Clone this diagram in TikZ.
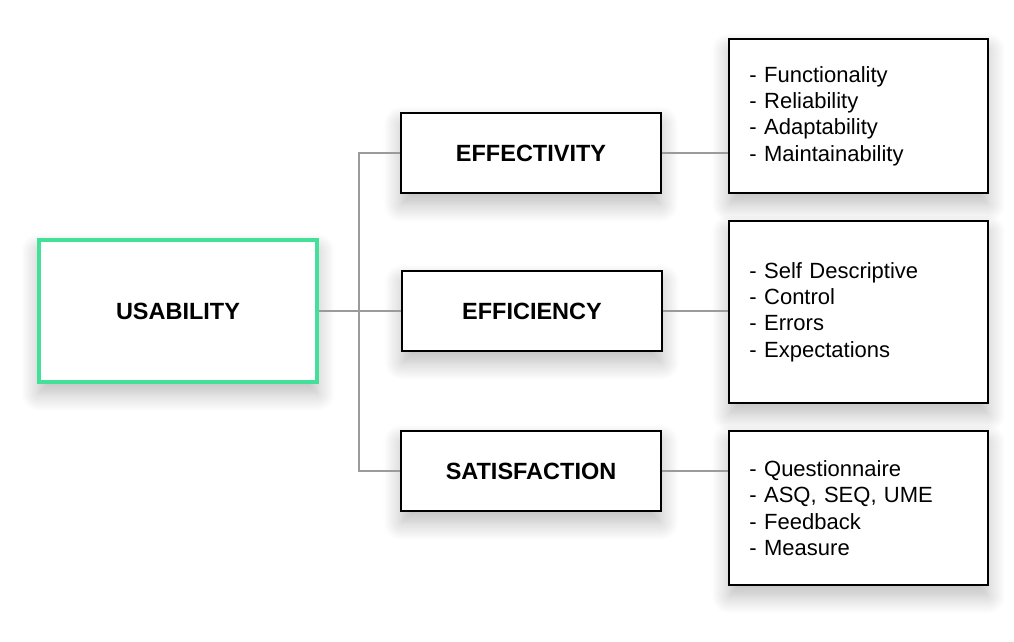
\documentclass[tikz,border=0pt]{standalone}
\usepackage{fontspec}
\setmainfont{Liberation Sans}
\usepackage{xcolor}
\usetikzlibrary{shadows.blur}

\begin{document}
\begin{tikzpicture}[x=0.025cm,y=-0.025cm,
		shade box/.style={blur shadow={shadow xshift=0pt,shadow yshift=-8pt,shadow blur radius=13pt,shadow blur steps=12,shadow opacity=28}},
		headbox/.style={draw=black,line width=1.4pt,fill=white,shade box,
			minimum width=6.475cm,minimum height=2cm,
			font=\fontsize{16.7pt}{20pt}\selectfont\bfseries},
		listbox/.style={draw=black,line width=1.4pt,fill=white,shade box,
			minimum width=6.45cm,text width=5.45cm,inner xsep=0.5cm,align=left,
			font=\fontsize{15.65pt}{18.7pt}\selectfont},
		link/.style={draw=mygray,line width=1.5pt}]
				% 颜色列表
				\definecolor{mygreen}{RGB}{66,224,152}
				\definecolor{mygray}{RGB}{155,155,155}
				% 画布大小
				\useasboundingbox (0,0) rectangle (1014,642);
				
				% 连线
				\coordinate (spine) at (359,311);
				
				% 左侧主框
				\node[draw=mygreen,line width=2.4pt,fill=white,shade box,
					minimum width=6.95cm,minimum height=3.55cm,
					font=\fontsize{16.7pt}{20pt}\selectfont\bfseries] (usab) at (178,311) {USABILITY};
				
				% 中间三个框
				\node[headbox] (effect) at (531,153) {EFFECTIVITY};
				\node[headbox] (effic) at (532,311) {EFFICIENCY};
				\node[headbox] (satis) at (531,471) {SATISFACTION};
				
				% 右侧列表框
				\node[listbox,minimum height=3.825cm] (leffect) at (858.5,116)
					{- Functionality\\- Reliability\\- Adaptability\\- Maintainability};
				\node[listbox,minimum height=4.525cm] (leffic) at (858.5,312)
					{- Self Descriptive\\- Control\\- Errors\\- Expectations};
				\node[listbox,minimum height=3.825cm] (lsatis) at (858.5,508)
					{- Questionnaire\\- ASQ, SEQ, UME\\- Feedback\\- Measure};
				
				\draw[link] (usab.east) -- (usab.east -| effic.west);
				\draw[link] (effect.west) -- (effect.west -| spine) |- (satis.west);
				\foreach \h/\l in {effect/leffect,effic/leffic,satis/lsatis}
				\draw[link] (\h.east) -- (\h.east -| \l.west);
				
			\end{tikzpicture}
\end{document}
